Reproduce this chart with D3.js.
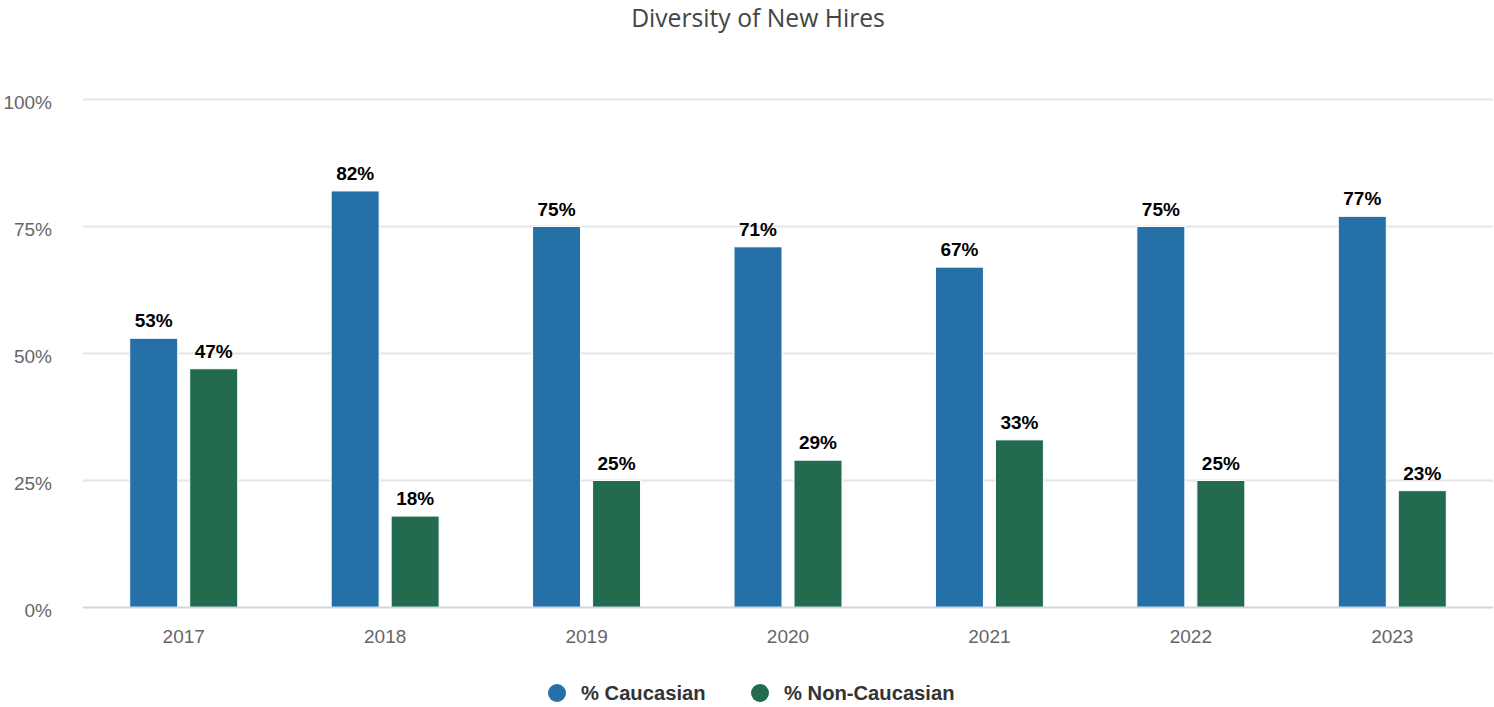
<!DOCTYPE html>
<html>
<head>
<meta charset="utf-8">
<script src="https://cdn.jsdelivr.net/npm/d3@7"></script>
<style>
  html, body { margin: 0; padding: 0; background: #fff; }
  svg { display: block; }
</style>
</head>
<body>
<svg id="chart" width="1494" height="707"></svg>
<script>
// Hiring diversity by year
const years = ["2017", "2018", "2019", "2020", "2021", "2022", "2023"];
const caucasian = [53, 82, 75, 71, 67, 75, 77];
const nonCaucasian = [47, 18, 25, 29, 33, 25, 23];
const yTicks = [0, 25, 50, 75, 100];
const seriesNames = ["% Caucasian", "% Non-Caucasian"];
const seriesColors = ["#2470a7", "#226b4e"];

const plot = { left: 83, right: 1493, top: 99.5, bottom: 607.5 };

const svg = d3.select("#chart");

// Title
svg.append("text")
  .attr("x", 758).attr("y", 27)
  .attr("text-anchor", "middle")
  .attr("font-family", "'Open Sans', sans-serif")
  .attr("font-size", 24.7)
  .attr("fill", "#444")
  .text("Diversity of New Hires");

const x0 = d3.scaleBand().domain(years).range([plot.left, plot.right]).paddingInner(0).paddingOuter(0);
const y = d3.scaleLinear().domain([0, 100]).range([plot.bottom, plot.top]);

// Gridlines
svg.append("g").selectAll("line")
  .data(yTicks.filter(t => t > 0))
  .join("line")
  .attr("x1", plot.left).attr("x2", plot.right)
  .attr("y1", d => y(d)).attr("y2", d => y(d))
  .attr("stroke", "#e6e6e6").attr("stroke-width", 2);

// Y axis labels
const yAxis = svg.append("g")
  .attr("transform", `translate(${plot.left - 31},2.5)`)
  .call(d3.axisLeft(y).tickValues(yTicks).tickFormat(d => d + "%").tickSize(0).tickPadding(0));
yAxis.select(".domain").remove();
yAxis.selectAll("text")
  .attr("font-family", "'Liberation Sans', Arial, sans-serif")
  .attr("font-size", 19)
  .attr("fill", "#666");

// Bars
const barW = 48, gap = 12;
const series = [caucasian, nonCaucasian];
const offsets = [-(gap / 2 + barW), gap / 2];

series.forEach((vals, si) => {
  const g = svg.append("g");
  g.selectAll("rect")
    .data(vals)
    .join("rect")
    .attr("x", (d, i) => x0(years[i]) + x0.bandwidth() / 2 + offsets[si])
    .attr("y", d => y(d))
    .attr("width", barW)
    .attr("height", d => y(0) - y(d))
    .attr("fill", seriesColors[si])
    .attr("stroke", "#fff")
    .attr("stroke-width", 1);

  g.selectAll("text")
    .data(vals)
    .join("text")
    .attr("x", (d, i) => x0(years[i]) + x0.bandwidth() / 2 + offsets[si] + barW / 2)
    .attr("y", d => y(d) - 11)
    .attr("text-anchor", "middle")
    .attr("font-family", "'Liberation Sans', Arial, sans-serif")
    .attr("font-weight", "bold")
    .attr("font-size", 19)
    .attr("fill", "#000")
    .text(d => d + "%");
});

// Baseline
svg.append("line")
  .attr("x1", plot.left).attr("x2", plot.right)
  .attr("y1", y(0)).attr("y2", y(0))
  .attr("stroke", "#ccd6eb").attr("stroke-width", 2);

// X axis labels
const xAxis = svg.append("g")
  .attr("transform", `translate(0,${plot.bottom + 22})`)
  .call(d3.axisBottom(x0).tickSize(0).tickPadding(0));
xAxis.select(".domain").remove();
xAxis.selectAll("text")
  .attr("font-family", "'Liberation Sans', Arial, sans-serif")
  .attr("font-size", 19)
  .attr("fill", "#666");

// Legend
const legendItems = [
  { name: seriesNames[0], color: seriesColors[0], cx: 557 },
  { name: seriesNames[1], color: seriesColors[1], cx: 760 }
];
const lg = svg.append("g");
legendItems.forEach(it => {
  lg.append("circle").attr("cx", it.cx).attr("cy", 693).attr("r", 9).attr("fill", it.color);
  lg.append("text")
    .attr("x", it.cx + 24).attr("y", 700)
    .attr("font-family", "'Liberation Sans', Arial, sans-serif")
    .attr("font-weight", "bold")
    .attr("font-size", 20.2)
    .attr("fill", "#333")
    .text(it.name);
});
</script>
</body>
</html>
